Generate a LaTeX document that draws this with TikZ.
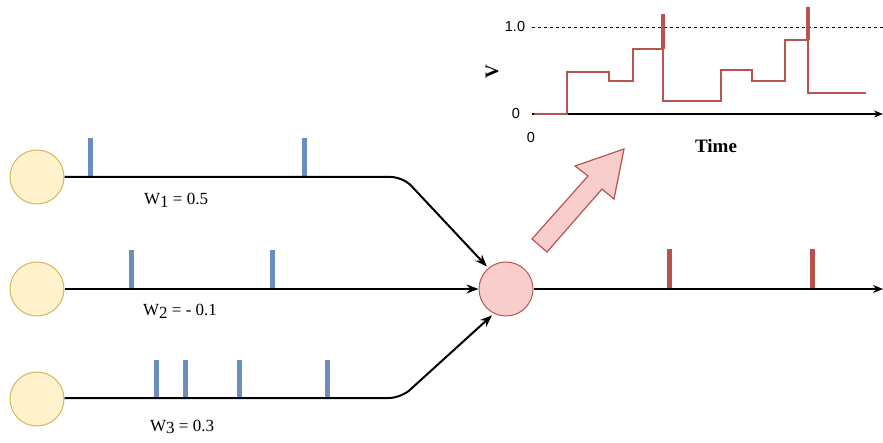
\documentclass[tikz,border=0pt]{standalone}
\usepackage{fontspec}
\setmainfont{Liberation Serif}
\newfontfamily\chartsans{Liberation Sans}
\usetikzlibrary{arrows.meta,calc}
\definecolor{inFill}{HTML}{FFF2CC}
\definecolor{inLine}{HTML}{D6B656}
\definecolor{nFill}{HTML}{F8CECC}
\definecolor{nLine}{HTML}{B85450}
\definecolor{spikeBlue}{HTML}{6C8EBF}
\tikzset{
  inputnode/.style={circle,draw=inLine,fill=inFill,line width=1pt,minimum size=54pt,inner sep=0pt},
  neuronnode/.style={circle,draw=nLine,fill=nFill,line width=1pt,minimum size=54pt,inner sep=0pt},
  wire/.style={line width=2pt,black},
  arrowwire/.style={wire,-{Stealth[length=12pt,width=9pt]}},
  inspike/.style={line width=5pt,spikeBlue},
  outspike/.style={line width=5pt,nLine},
  wlabel/.style={anchor=base west,inner sep=0pt,font=\fontsize{17}{19}\selectfont},
  potential/.style={line width=2pt,nLine,line join=miter},
  chartnum/.style={inner sep=0pt,font=\chartsans\fontsize{14.5}{16}\selectfont},
}
\newcommand{\wsub}[1]{\raisebox{-0.35ex}{#1}}
\begin{document}
\begin{tikzpicture}[x=1pt,y=-1pt]
\useasboundingbox (0,0) rectangle (883,443);
% input neurons
\node[inputnode] (in1) at (37,177) {};
\node[inputnode] (in2) at (37,289) {};
\node[inputnode] (in3) at (37,399) {};
\node[neuronnode] (nrn) at (506,289) {};
% corner coordinates
\coordinate (c1) at (403,177);
\coordinate (c3) at (401,398);
\coordinate (outend) at (883,289);
% input spikes
\draw[inspike] (90,138) -- (90,176);
\draw[inspike] (304,138) -- (304,176);
\draw[inspike] (131,250) -- (131,288);
\draw[inspike] (272,250) -- (272,288);
\draw[inspike] (156,360) -- (156,398);
\draw[inspike] (185,360) -- (185,398);
\draw[inspike] (239,360) -- (239,398);
\draw[inspike] (327,360) -- (327,398);
% connectors
\draw[arrowwire,rounded corners=12pt] (in1.east) -- (c1) -- ($(nrn.130)+(-1.5,-1.5)$);
\draw[arrowwire] (in2.east) -- (nrn.west);
\draw[arrowwire,rounded corners=12pt] (in3.east |- c3) -- (c3) -- ($(nrn.242)+(-1,2)$);
\draw[wire,-{Stealth[length=10pt,width=8pt]}] (nrn.east) -- (outend);
% output spikes
\draw[outspike] (669,249) -- (669,288);
\draw[outspike] (812,249) -- (812,288);
% weight labels
\node[wlabel] (w1) at (144,205) {W\wsub{1} = 0.5};
\node[wlabel] (w2) at (143,316) {W\wsub{2} = - 0.1};
\node[wlabel] (w3) at (150,431) {W\wsub{3} = 0.3};
% big arrow
\draw[nLine,fill=nFill,line width=1.2pt,line join=miter]
  (532,239) -- (588,176) -- (575,166) -- (624,149) -- (614,199) -- (602,189) -- (547,252) -- cycle;
% chart
\coordinate (origin) at (532,114);
\coordinate (taxis) at (883,114);
\draw[line width=2.2pt,-{Stealth[length=9pt,width=7pt]}] (origin) -- (taxis);
\draw[line width=0.8pt,dash pattern=on 3pt off 3pt] (532,27) -- (883,27);
\node[chartnum] (l10) at (515,27) {1.0};
\node[chartnum] (l0) at (516,114) {0};
\node[chartnum] (t0) at (531,138) {0};
\node[inner sep=0pt,rotate=90,font=\bfseries\fontsize{19}{20}\selectfont] (vlab) at (492,72) {V};
\node[inner sep=0pt,font=\bfseries\fontsize{19}{20}\selectfont] (tlab) at (716,146) {Time};
\draw[potential] (534,114) -- (567,114) -- (567,71.7) -- (609,71.7) -- (609,80.7) -- (632.7,80.7)
  -- (632.7,48.7) -- (663.3,48.7) -- (663.3,100.7) -- (721.3,100.7) -- (721.3,70.3) -- (751.7,70.3)
  -- (751.7,81.3) -- (785,81.3) -- (785,39.7) -- (808.3,39.7) -- (808.3,92.7) -- (866,92.7);
\draw[nLine,line width=3.8pt] (663.3,14) -- (663.3,49);
\draw[nLine,line width=3.8pt] (808.3,7) -- (808.3,40);
\end{tikzpicture}
\end{document}
